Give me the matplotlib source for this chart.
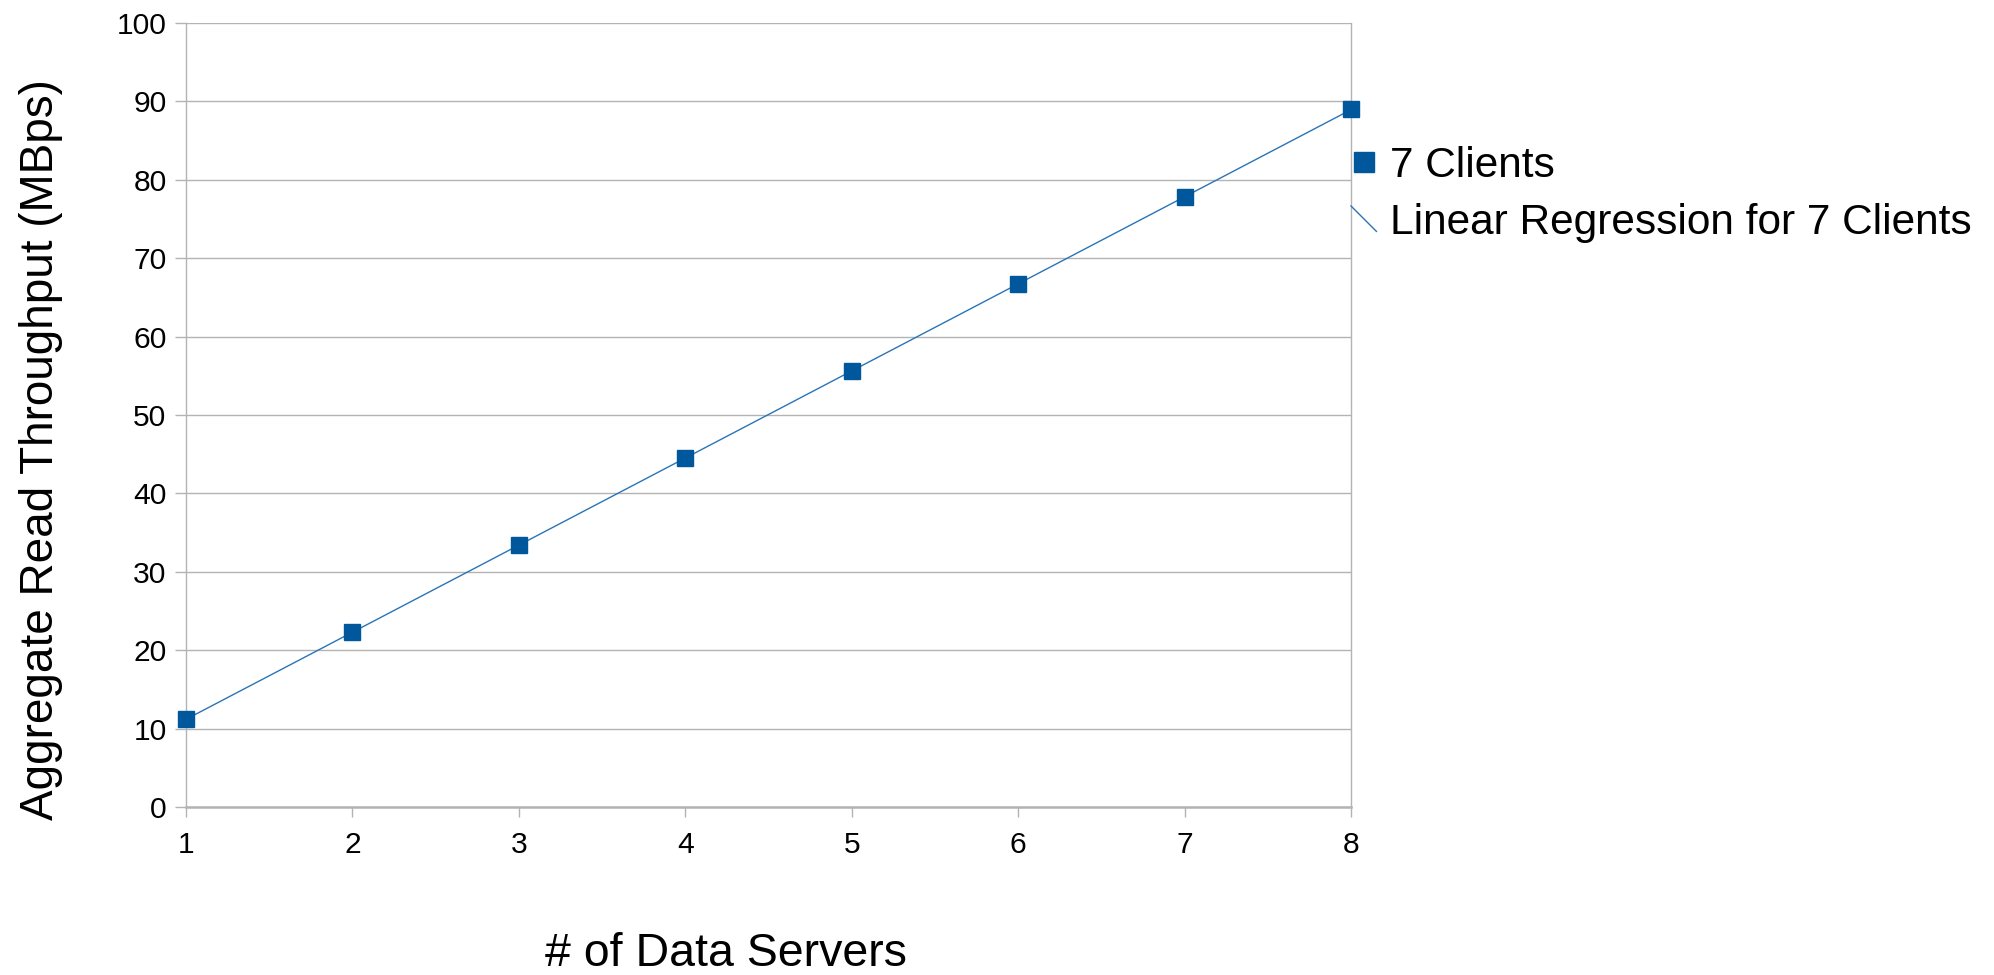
import matplotlib
matplotlib.use('Agg')
import matplotlib.pyplot as plt
import numpy as np
from matplotlib.lines import Line2D
from matplotlib.legend_handler import HandlerBase

plt.rcParams['font.family'] = ['Liberation Sans', 'DejaVu Sans']

# data
servers = [1, 2, 3, 4, 5, 6, 7, 8]
throughput = [11.2, 22.3, 33.4, 44.5, 55.6, 66.7, 77.8, 89.0]
y_ticks = [0, 10, 20, 30, 40, 50, 60, 70, 80, 90, 100]
series_label = '7 Clients'
trend_label = 'Linear Regression for 7 Clients'

marker_color = '#00579c'
line_color = '#2a74b5'
grid_color = '#b3b3b3'

W, H = 1994, 975
fig = plt.figure(figsize=(W / 100, H / 100), dpi=100)
# plot area in pixels: x 186..1351, y 23..807
ax = fig.add_axes([186 / W, 1 - 807 / H, (1351 - 186) / W, (807 - 23) / H])

# linear regression line
slope, icpt = np.polyfit(servers, throughput, 1)
xs = np.array([servers[0], servers[-1]])
ax.plot(xs, slope * xs + icpt, color=line_color, lw=1.0, zorder=3)
ax.plot(servers, throughput, ls='none', marker='s', ms=12,
        color=marker_color, mec=marker_color, zorder=4, clip_on=False)

ax.set_xlim(1, 8)
ax.set_ylim(0, 100)
ax.set_xticks(servers)
ax.set_yticks(y_ticks)
ax.grid(axis='y', color=grid_color, lw=1.0)
ax.set_axisbelow(True)

for s in ['left', 'right']:
    ax.spines[s].set_color(grid_color)
    ax.spines[s].set_linewidth(1.0)
ax.spines['top'].set_visible(False)
ax.spines['bottom'].set_color(grid_color)
ax.spines['bottom'].set_linewidth(1.8)

ax.tick_params(axis='y', length=8, width=1, color=grid_color, pad=6, labelsize=21.6)
ax.tick_params(axis='x', length=7, width=1, color=grid_color, pad=10, labelsize=21.6)

ax.set_xlabel('# of Data Servers', fontsize=33.5, va='center')
ax.xaxis.set_label_coords((726 - 186) / 1165, (807 - 954) / 784)
ax.set_ylabel('Aggregate Read Throughput (MBps)', fontsize=33, va='center')
ax.yaxis.set_label_coords((41 - 186) / 1165, (807 - 450) / 784)


class DiagHandler(HandlerBase):
    # short 45 degree stroke, as the office suite draws a trend line key
    def create_artists(self, legend, orig_handle, xdescent, ydescent,
                       width, height, fontsize, trans):
        x0, y0 = -xdescent, -ydescent
        yc = y0 + height / 2
        ln = Line2D([x0, x0 + width], [yc + width / 2, yc - width / 2],
                    color=line_color, lw=1.0, transform=trans)
        return [ln]


h_series = Line2D([], [], ls='none', marker='s', ms=14.4,
                  color=marker_color, mec=marker_color)
h_trend = Line2D([], [], color=line_color)
fig.legend([h_series, h_trend], [series_label, trend_label],
           handler_map={h_trend: DiagHandler()},
           loc='upper left', bbox_to_anchor=(1351 / W, 1 - 146 / H),
           frameon=False, fontsize=30.5, handlelength=0.6,
           handletextpad=0.33, borderpad=0, borderaxespad=0,
           labelspacing=0.39)

fig.savefig('out.png', dpi=100)
